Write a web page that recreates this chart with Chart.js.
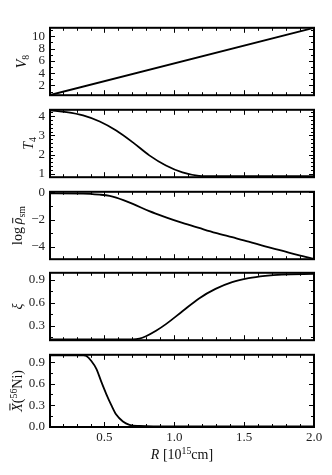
<!DOCTYPE html>
<html><head><meta charset="utf-8">
<script src="https://cdn.jsdelivr.net/npm/chart.js@4.4.0/dist/chart.umd.min.js"></script>
<style>
html,body{margin:0;padding:0;background:#fff;}
#wrap{position:relative;width:332px;height:475px;overflow:hidden;background:#fff;}
#wrap canvas{position:absolute;left:0;}
</style></head><body><div id="wrap"></div>
<script>
// ---- data ----
const xMin = 0.11, xMax = 2.0;
const xMajorTicks = [0.5, 1.0, 1.5, 2.0];

const rVel = [0.11, 2.0];
const vel  = [0.45, 11.39];
const velTicks = [2, 4, 6, 8, 10];

const rTemp = [0.11, 0.228, 0.347, 0.466, 0.584, 0.703, 0.821, 0.94, 1.058, 1.177, 1.23, 2.0];
const temp  = [4.31, 4.22, 4.05, 3.73, 3.26, 2.64, 1.96, 1.43, 1.07, 0.885, 0.87, 0.87];
const tempTicks = [1, 2, 3, 4];

const rRho = [0.11, 0.347, 0.466, 0.537, 0.584, 0.703, 0.821, 0.94, 1.058, 1.177, 1.295, 1.414, 1.532, 1.65, 1.77, 1.888, 2.0];
const logRho = [-0.08, -0.09, -0.17, -0.26, -0.39, -0.85, -1.38, -1.83, -2.24, -2.61, -2.97, -3.29, -3.61, -3.96, -4.28, -4.61, -4.88];
const rhoTicks = [-4, -2, 0];

const rXi = [0.11, 0.703, 0.75, 0.797, 0.869, 0.94, 1.058, 1.177, 1.295, 1.414, 1.532, 1.65, 1.77, 2.0];
const xi  = [0.12, 0.12, 0.13, 0.162, 0.233, 0.32, 0.488, 0.656, 0.78, 0.868, 0.92, 0.95, 0.967, 0.975];
const xiTicks = [0.3, 0.6, 0.9];

const rNi = [0.11, 0.35, 0.371, 0.406, 0.442, 0.477, 0.513, 0.549, 0.584, 0.632, 0.679, 0.75, 0.85, 2.0];
const ni  = [1.0, 1.0, 0.99, 0.92, 0.81, 0.63, 0.456, 0.30, 0.167, 0.07, 0.024, 0.007, 0.0, 0.0];
const niTicks = [0.0, 0.3, 0.6, 0.9];

// ---- layout / style ----
const FONT = '"Liberation Serif", "DejaVu Serif", serif';
const PAD = 9;
const panels = [
  {r: rVel, v: vel, min: 0.42, max: 11.39, major: velTicks, minor: 1, fmt: v => String(v),
   title: [{t: 'V', it: 1}, {t: '8', sub: 1}], tx: 21, top: 24, h: 75},
  {r: rTemp, v: temp, min: 0.82, max: 4.34, major: tempTicks, minor: 0.2, fmt: v => String(v),
   title: [{t: 'T', it: 1}, {t: '4', sub: 1}], tx: 28, top: 106, h: 75},
  {r: rRho, v: logRho, min: -4.9, max: 0.04, major: rhoTicks, minor: 1, fmt: v => (v < 0 ? '\u2212' + Math.abs(v) : String(v)),
   title: [{t: 'log\u2009'}, {t: '\u03C1', it: 1, bar: 0.62}, {t: 'sm', sub: 1}], tx: 17, top: 188, h: 75},
  {r: rXi, v: xi, min: 0.11, max: 0.99, major: xiTicks, minor: 0.15, fmt: v => v.toFixed(1),
   title: [{t: '\u03BE', it: 1}], tx: 17.5, top: 269, h: 75},
  {r: rNi, v: ni, min: -0.007, max: 1.007, major: niTicks, minor: 0.15, fmt: v => v.toFixed(1),
   title: [{t: 'X', it: 1, bar: 0.82}, {t: '('}, {t: '56', sup: 1}, {t: 'Ni)'}], tx: 17, top: 351, h: 76, last: true}
];

function minorList(min, max, step, majors) {
  const out = [];
  for (let k = Math.ceil(min / step - 1e-9); k <= Math.floor(max / step + 1e-9); k++) {
    const v = +(k * step).toFixed(6);
    if (!majors.some(m => Math.abs(m - v) < 1e-6)) out.push(v);
  }
  return out;
}

function drawRich(ctx, segs, cx, cy, rotate, size) {
  ctx.save();
  ctx.translate(cx, cy);
  if (rotate) ctx.rotate(-Math.PI / 2);
  let total = 0;
  const items = segs.map(s => {
    const fs = (s.sub || s.sup) ? size * 0.7 : size;
    const font = (s.it ? 'italic ' : '') + fs + 'px ' + FONT;
    ctx.font = font;
    const w = ctx.measureText(s.t).width;
    total += w;
    return {s, font, w, fs};
  });
  let x = -total / 2;
  ctx.textBaseline = 'alphabetic';
  ctx.textAlign = 'left';
  ctx.fillStyle = '#111';
  const base = size * 0.35;
  items.forEach(it => {
    ctx.font = it.font;
    let dy = base;
    if (it.s.sub) dy += size * 0.22;
    if (it.s.sup) dy -= size * 0.38;
    ctx.fillText(it.s.t, x, dy);
    if (it.s.bar) {
      ctx.fillRect(x + it.w * 0.15, dy - size * it.s.bar - 1, it.w * 0.8, 1);
    }
    x += it.w;
  });
  ctx.restore();
}

const framePlugin = {
  id: 'mplFrame',
  afterDatasetsDraw(chart) {
    const o = chart.options.plugins.mplFrame;
    const {ctx, chartArea: a, scales} = chart;
    const xs = scales.x, ys = scales.y;
    ctx.save();
    ctx.strokeStyle = '#000';
    ctx.lineWidth = 1;
    const drawX = (vals, len) => vals.forEach(v => {
      const px = Math.round(xs.getPixelForValue(v)) + 0.5;
      ctx.beginPath();
      ctx.moveTo(px, a.bottom); ctx.lineTo(px, a.bottom - len);
      ctx.moveTo(px, a.top); ctx.lineTo(px, a.top + len);
      ctx.stroke();
    });
    const drawY = (vals, len) => vals.forEach(v => {
      const py = Math.round(ys.getPixelForValue(v)) + 0.5;
      ctx.beginPath();
      ctx.moveTo(a.left, py); ctx.lineTo(a.left + len, py);
      ctx.moveTo(a.right, py); ctx.lineTo(a.right - len, py);
      ctx.stroke();
    });
    drawX(xMajorTicks, 5);
    drawX(minorList(xMin, xMax, 0.1, xMajorTicks), 3);
    drawY(o.major, 5);
    drawY(minorList(o.min, o.max, o.minor, o.major), 3);
    ctx.lineWidth = 2;
    ctx.strokeRect(a.left, a.top, a.right - a.left, a.bottom - a.top);
    ctx.restore();
    // y axis title
    drawRich(ctx, o.title, o.tx, (a.top + a.bottom) / 2, true, 14);
    if (o.last) {
      drawRich(ctx, [{t: 'R', it: 1}, {t: ' [10'}, {t: '15', sup: 1}, {t: 'cm]'}],
        (a.left + a.right) / 2, a.bottom + 27, false, 14);
    }
  }
};

const wrap = document.getElementById('wrap');
panels.forEach(p => {
  const canvas = document.createElement('canvas');
  const top = p.top - PAD;
  const height = p.last ? 475 - top : p.h + 2 * PAD;
  canvas.width = 332; canvas.height = height;
  canvas.style.top = top + 'px';
  canvas.style.width = '332px'; canvas.style.height = height + 'px';
  wrap.appendChild(canvas);
  const xAxisH = p.last ? 37 : 0;
  const padBottom = p.last ? height - PAD - p.h - xAxisH : PAD;
  new Chart(canvas, {
    type: 'line',
    data: {
      datasets: [{
        data: p.r.map((r, i) => ({x: r, y: p.v[i]})),
        borderColor: '#000', borderWidth: 1.8, pointRadius: 0,
        cubicInterpolationMode: 'monotone', fill: false
      }]
    },
    options: {
      responsive: false, animation: false, devicePixelRatio: 1,
      layout: {padding: {left: 0, right: 18, top: PAD, bottom: padBottom}},
      plugins: {
        legend: {display: false}, tooltip: {enabled: false},
        mplFrame: {major: p.major, minor: p.minor, min: p.min, max: p.max, title: p.title, tx: p.tx, last: !!p.last}
      },
      scales: {
        x: {
          type: 'linear', min: xMin, max: xMax, display: !!p.last,
          afterBuildTicks: s => { s.ticks = xMajorTicks.map(v => ({value: v})); },
          afterFit: s => { s.height = xAxisH; },
          grid: {display: false, drawTicks: false}, border: {display: false},
          ticks: {padding: 3, maxRotation: 0, autoSkip: false, color: '#222',
            font: {family: FONT, size: 13}, callback: v => v.toFixed(1)}
        },
        y: {
          type: 'linear', min: p.min, max: p.max,
          afterBuildTicks: s => { s.ticks = p.major.map(v => ({value: v})); },
          afterFit: s => { s.width = 50; },
          grid: {display: false, drawTicks: false}, border: {display: false},
          ticks: {padding: 5, autoSkip: false, color: '#222', font: {family: FONT, size: 13}, callback: v => p.fmt(v)}
        }
      }
    },
    plugins: [framePlugin]
  });
});
</script></body></html>
